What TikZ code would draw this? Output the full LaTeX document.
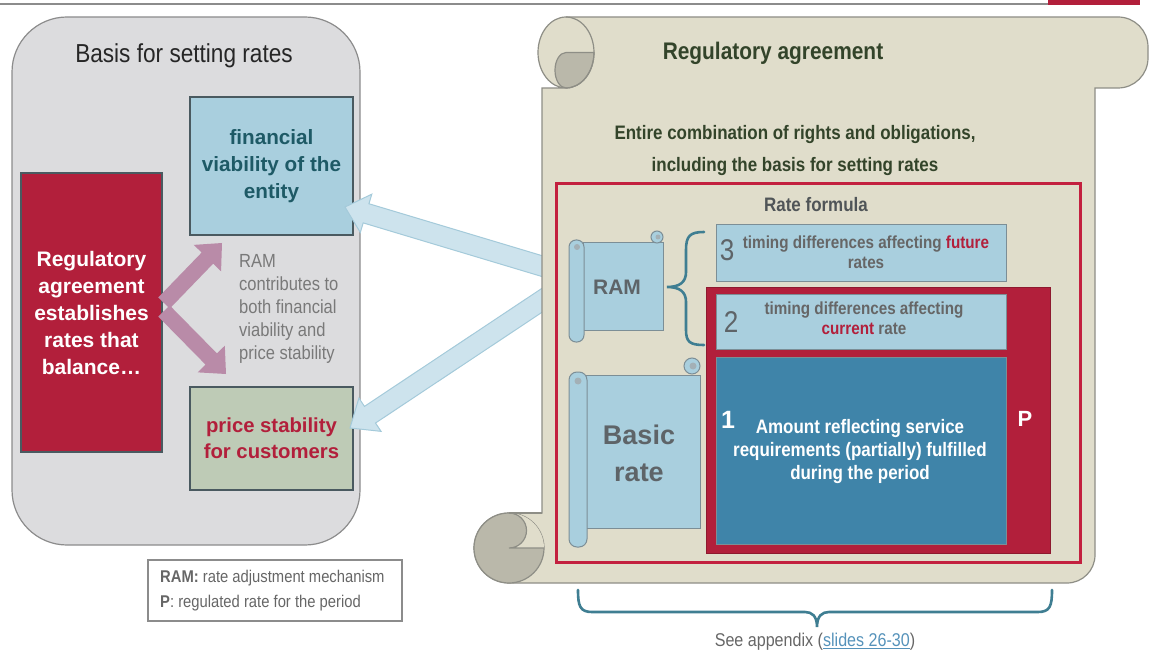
\documentclass[tikz,border=0pt]{standalone}
\usepackage{fontspec}
\setmainfont{Liberation Sans}
\newfontfamily\nar{Liberation Sans}[FakeStretch=0.87]
\usetikzlibrary{calc}
\definecolor{basisfill}{HTML}{DCDCDE}
\definecolor{basisline}{HTML}{8C8C8C}
\definecolor{lblue}{HTML}{A9CFDE}
\definecolor{boxline}{HTML}{4A5A60}
\definecolor{tealtxt}{HTML}{1E5A66}
\definecolor{crimson}{HTML}{B21F3B}
\definecolor{framered}{HTML}{C3203F}
\definecolor{greenbox}{HTML}{BECBB6}
\definecolor{mauve}{HTML}{B98BA8}
\definecolor{scrollfill}{HTML}{E0DDCB}
\definecolor{scrollline}{HTML}{8E8E86}
\definecolor{curlgray}{HTML}{BAB8AA}
\definecolor{dblue}{HTML}{3F84A9}
\definecolor{braceteal}{HTML}{3F7E92}
\definecolor{linkblue}{HTML}{5592BA}
\definecolor{arrfill}{HTML}{CDE3ED}
\definecolor{arrline}{HTML}{A4CADA}
\definecolor{greytxt}{HTML}{666666}
\definecolor{ramtxt}{HTML}{5E6468}
\definecolor{smallline}{HTML}{7C8E96}
\definecolor{darkgreen}{HTML}{33442A}
\newcommand\fatarrow[6]{%
  \coordinate (fab) at ($(#3)!#6!(#2)$);
  \path[#1] ($(#2)!#4!90:(#3)$) -- ($(fab)!#4!-90:(#2)$) -- ($(fab)!#5!-90:(#2)$) -- (#3)
    -- ($(fab)!#5!90:(#2)$) -- ($(fab)!#4!90:(#2)$) -- ($(#2)!#4!-90:(#3)$) -- cycle;}
\newcommand\fs[2]{\fontsize{#1}{#2}\selectfont}
\begin{document}
\begin{tikzpicture}[x=1pt,y=-1pt,
  lbox/.style={draw=boxline, line width=1.2pt, inner sep=0pt, align=center},
  tbox/.style={draw=smallline, fill=lblue, line width=1pt, inner sep=0pt},
  sc/.style={draw=smallline, fill=lblue, line width=1pt},
  brace/.style={draw=braceteal, line width=2.6pt, line cap=round}]
\useasboundingbox (0,0) rectangle (1149,655);
% top rule
\draw[basisline, line width=1.5pt] (0,4) -- (1048,4);
\fill[crimson] (1048,0) rectangle (1140,5);
% left panel
\node[draw=basisline, fill=basisfill, line width=1.2pt, rounded corners=55pt,
  minimum width=348pt, minimum height=528pt] (basis) at (186,281) {};
\node[font=\nar\fs{26}{30}, text=black!85] (basisT) at (184,56) {Basis for setting rates};
\node[lbox, fill=lblue, minimum width=163pt, minimum height=138pt, text=tealtxt,
  font=\bfseries\fs{20.7}{27}] (fin) at (271.5,166) {financial\\viability of the\\entity};
\node[lbox, fill=crimson, minimum width=141pt, minimum height=279pt, text=white,
  font=\bfseries\fs{21}{27}] (reg) at (91.5,312.5) {Regulatory\\agreement\\establishes\\rates that\\balance\ldots};
\node[lbox, fill=greenbox, minimum width=163pt, minimum height=103pt, text=crimson,
  font=\bfseries\fs{20.3}{26}] (price) at (271.5,438.5) {price stability\\for customers};
\node[anchor=north west, align=left, text=gray!95!black, font=\nar\fs{19}{23}, inner sep=0pt] (ramc) at (239,254)
  {RAM\\contributes to\\both financial\\viability and\\price stability};
% purple arrows
\coordinate (pu1) at (164,303); \coordinate (pu1e) at (222,243);
\coordinate (pu2) at (164,311); \coordinate (pu2e) at (226,374);
\fatarrow{fill=mauve}{pu1}{pu1e}{8pt}{19pt}{21pt}
\fatarrow{fill=mauve}{pu2}{pu2e}{8pt}{19pt}{21pt}
% light blue arrows
\coordinate (ba1) at (565,273); \coordinate (ba1e) at (345,207);
\coordinate (ba2) at (565,285); \coordinate (ba2e) at (350,428);
\fatarrow{fill=arrfill, draw=arrline, line width=1pt}{ba1}{ba1e}{10pt}{20pt}{22pt}
\fatarrow{fill=arrfill, draw=arrline, line width=1pt}{ba2}{ba2e}{10pt}{20pt}{24pt}
% scroll
\path[draw=scrollline, fill=scrollfill, line width=1.2pt]
  (566,17) -- (1118,17) arc[start angle=-90, end angle=0, radius=30] -- (1148,58)
  arc[start angle=0, end angle=90, radius=30] -- (1095,88) -- (1095,555)
  arc[start angle=0, end angle=90, radius=28] -- (509,583)
  arc[start angle=90, end angle=270, radius=35] -- (542,513) -- (542,88) -- (566,88)
  arc[start angle=90, end angle=270, x radius=28, y radius=35.5] -- cycle;
% top curl
\path[draw=scrollline, fill=curlgray, line width=1.2pt]
  (594,52.5) arc[start angle=0, end angle=90, x radius=28, y radius=35.5]
  arc[start angle=90, end angle=270, x radius=11, y radius=17.75] -- cycle;
\draw[scrollline, line width=1.2pt] (566,17) arc[start angle=-90, end angle=90, x radius=28, y radius=35.5];
% bottom curl
\draw[scrollline, fill=curlgray, line width=1.2pt] (509,548) circle[radius=35];
\fill[scrollfill] (509,548) -- (544,548) arc[start angle=0, end angle=-90, radius=35]
  arc[start angle=-90, end angle=90, radius=17.5] -- cycle;
\draw[scrollline, line width=1.2pt] (544,548) -- (509,548) arc[start angle=90, end angle=-90, radius=17.5];
\draw[scrollline, line width=1.2pt] (509,513) -- (542,513);
\node[text=darkgreen, font=\nar\bfseries\fs{24}{28}] (raT) at (773,53) {Regulatory agreement};
\node[text=darkgreen, font=\nar\bfseries\fs{19.5}{32}, align=center] (raS) at (795,151)
  {Entire combination of rights and obligations,\\including the basis for setting rates};
% rate formula frame
\node[draw=framered, line width=3pt, minimum width=524pt, minimum height=378pt] (frame) at (818,373) {};
\node[text=ramtxt!85!black, font=\nar\bfseries\fs{19.5}{22}] (rfT) at (816,205) {Rate formula};
\node[tbox, minimum width=290pt, minimum height=57pt] (b3) at (861,253.5) {};
\node[fill=crimson, draw=crimson!80!black, line width=1pt, minimum width=344pt, minimum height=266pt] (pbox) at (878,420) {};
\node[tbox, minimum width=290pt, minimum height=55pt] (b2) at (861,321.5) {};
\node[tbox, fill=dblue, minimum width=290pt, minimum height=187pt] (b1) at (861,450.5) {};
\node[text=ramtxt, font=\nar\fs{30}{30}] (n3) at (727,250) {3};
\node[text=greytxt, font=\nar\bfseries\fs{17.5}{20}, align=center] (t3) at (866,252)
  {timing differences affecting \textcolor{crimson}{future}\\rates};
\node[text=ramtxt, font=\nar\fs{30}{30}] (n2) at (731,322) {2};
\node[text=greytxt, font=\nar\bfseries\fs{17.5}{20}, align=center] (t2) at (864,318)
  {timing differences affecting\\\textcolor{crimson}{current} rate};
\node[text=white, font=\bfseries\fs{25}{26}] (n1) at (728,420) {1};
\node[text=white, font=\nar\bfseries\fs{19.5}{23}, align=center] (t1) at (860,451)
  {Amount reflecting service\\requirements (partially) fulfilled\\during the period};
\node[text=white, font=\bfseries\fs{22}{24}] (pl) at (1025,419) {P};
% RAM scroll
\node[sc, minimum width=80pt, minimum height=87pt, inner sep=0pt, text=ramtxt,
  font=\bfseries\fs{21}{24}] (ramS) at (623,286.5) {};
\node[text=ramtxt, font=\bfseries\fs{21}{24}] (ramL) at (617,287) {RAM};
\draw[sc] (657,237) circle[radius=6];
\fill[smallline!70] (658,237) circle[radius=2.5];
\draw[sc, rounded corners=7pt] (569,240) rectangle (584,342);
\fill[smallline!70] (577,247) circle[radius=3];
% Basic rate scroll
\node[sc, minimum width=115pt, minimum height=153pt, inner sep=0pt] (basS) at (642.5,451.5) {};
\node[text=ramtxt, font=\bfseries\fs{27}{37}, align=center] (basL) at (639,453) {Basic\\rate};
\draw[sc] (692,366) circle[radius=8];
\fill[smallline!70] (693,366) circle[radius=3.5];
\draw[sc, rounded corners=8pt] (569,372) rectangle (587,547);
\fill[smallline!70] (578,381) circle[radius=3.5];
% braces
\draw[brace] (704,232) .. controls (690,232) and (686,236) .. (686,250) -- (686,272)
  .. controls (686,282) and (680,287) .. (667,287)
  .. controls (680,287) and (686,292) .. (686,302) -- (686,330)
  .. controls (686,342) and (690,345) .. (704,345);
\draw[brace] (578,590) .. controls (578,606) and (580,612) .. (592,612) -- (805,612)
  .. controls (812,612) and (817,616) .. (817,627)
  .. controls (817,616) and (822,612) .. (829,612) -- (1038,612)
  .. controls (1050,612) and (1052,606) .. (1052,590);
\node[text=greytxt, font=\nar\fs{18.5}{20}] (seeA) at (815,642)
  {See appendix (\textcolor{linkblue}{\underline{slides 26-30}})};
% legend
\node[draw=basisline, line width=1.2pt, minimum width=254pt, minimum height=61pt] (leg) at (275,590.5) {};
\node[anchor=west, align=left, text=greytxt, font=\nar\fs{17}{25}, inner sep=0pt] (legT) at (160,590.5)
  {\textbf{RAM:} rate adjustment mechanism\\\textbf{P}: regulated rate for the period};
\end{tikzpicture}
\end{document}
